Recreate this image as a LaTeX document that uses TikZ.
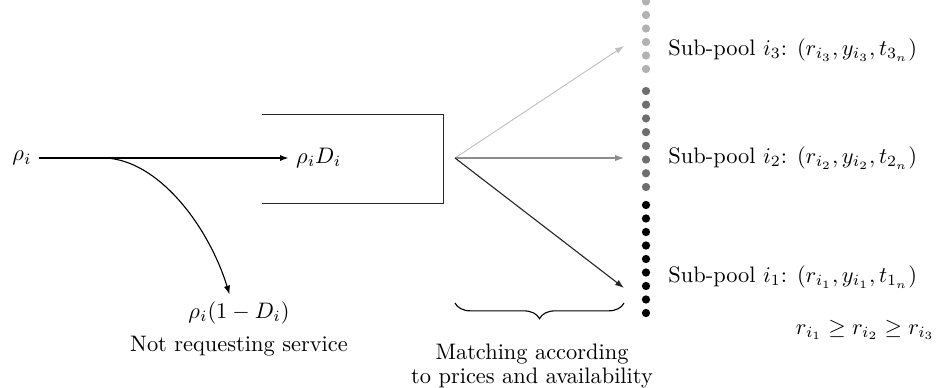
\documentclass[tikz,border=0pt]{standalone}
\usetikzlibrary{arrows.meta,decorations.pathreplacing}
\definecolor{poolA}{gray}{0.0}
\definecolor{poolB}{gray}{0.43}
\definecolor{poolC}{gray}{0.70}
\begin{document}
\begin{tikzpicture}[x=0.4464pt,y=-0.4464pt,
  tip/.style={-{Latex[length=4pt,width=2.8pt]}},
  mathlbl/.style={inner sep=3pt},
  poollbl/.style={inner sep=0pt,anchor=west},
  pooldot/.style={radius=1.85pt}]
\useasboundingbox (0,0) rectangle (938,387);

% arrivals and the split between requesting / not requesting
\node[mathlbl] (rho) at (22,158) {$\rho_i$};
\node[mathlbl,anchor=west] (rhoD) at (289,158) {$\rho_i D_i$};
\node[mathlbl] (notreq) at (239,313) {$\rho_i(1-D_i)$};
\node[inner sep=0pt] (notreqtxt) at (239,346) {Not requesting service};
\draw[line width=0.9pt,tip] (rho.east) -- (rhoD.west);
\coordinate (branch) at (105,158);
\draw[line width=0.5pt,tip] (branch) .. controls (158,160) and (208,225) .. (notreq.117);

% queue
\draw[line width=0.4pt,black!85] (262,114) -| (443,203) -- (262,203);

% matching fan
\coordinate (fan) at (455,158);
\coordinate (a3) at (624,46);
\coordinate (a2) at (624,158);
\coordinate (a1) at (624,288);
\draw[line width=0.4pt,color=poolC!85,tip] (fan) -- (a3);
\draw[line width=0.5pt,color=black!45,tip] (fan) -- (a2);
\draw[line width=0.5pt,color=black!85,tip] (fan) -- (a1);

% sub-pools of drivers
\foreach \k in {0,...,5} \fill[poolC] (646,1.5+13.5*\k) circle[pooldot];
\foreach \k in {0,...,7} \fill[poolB] (646,91+13.71*\k) circle[pooldot];
\foreach \k in {0,...,8} \fill[poolA] (646,205+13.5*\k) circle[pooldot];

\node[poollbl] (p3) at (668,50) {Sub-pool $i_3$: $(r_{i_3},y_{i_3},t_{3_n})$};
\node[poollbl] (p2) at (668,158) {Sub-pool $i_2$: $(r_{i_2},y_{i_2},t_{2_n})$};
\node[poollbl] (p1) at (668,277) {Sub-pool $i_1$: $(r_{i_1},y_{i_1},t_{1_n})$};
\node[inner sep=0pt,anchor=east] (order) at (935,330) {$r_{i_1}\geq r_{i_2}\geq r_{i_3}$};

% matching brace
\coordinate (bl) at (455,303);
\coordinate (br) at (624,303);
\draw[line width=0.5pt,decorate,decoration={brace,amplitude=7pt}] (br) -- (bl);
\node[inner sep=0pt,align=center] (matchtxt) at (532,366)
  {Matching according\\[-1.5pt] to prices and availability};
\end{tikzpicture}
\end{document}
